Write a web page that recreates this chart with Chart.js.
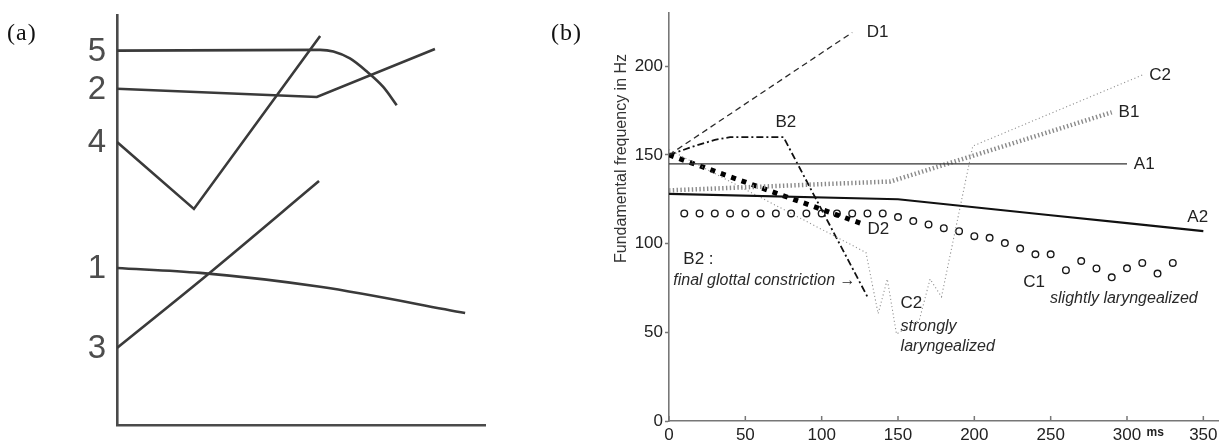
<!DOCTYPE html>
<html><head><meta charset="utf-8">
<script src="https://cdn.jsdelivr.net/npm/chart.js@4.4.1/dist/chart.umd.min.js"></script>
<style>
html,body{margin:0;padding:0;background:#fff;}
body{width:1224px;height:442px;overflow:hidden;position:relative;}
#ca{position:absolute;left:0;top:0;}
#cb{position:absolute;left:540px;top:0;}
.pl{position:absolute;font-family:"Liberation Serif","Times New Roman",serif;font-size:24px;line-height:24px;color:#111;letter-spacing:1px;}
</style></head>
<body>
<canvas id="ca" width="540" height="442"></canvas>
<canvas id="cb" width="684" height="442"></canvas>
<div class="pl" style="left:7px;top:20px">(a)</div>
<div class="pl" style="left:551px;top:20px">(b)</div>
<script>
// ---------- Panel (a): schematic contours (arbitrary units 0-100) ----------
const aNames = ['5', '2', '4', '1', '3'];
const a5x = [0, 55.2, 58.8, 63.3, 67.9, 72.4, 76.0];
const a5y = [91.3, 91.5, 91.1, 89.4, 86.2, 82.4, 78.0];
const a2x = [0, 54.3, 86.4];
const a2y = [82.0, 80.0, 91.7];
const a4x = [0, 20.9, 55.2];
const a4y = [69.0, 52.7, 94.9];
const a1x = [0, 22.6, 55.2, 94.6];
const a1y = [38.3, 37.1, 33.7, 27.3];
const a3x = [0, 24.5, 54.9];
const a3y = [18.8, 36.6, 59.5];

// ---------- Panel (b): F0 contours ----------
const xTicksB = [0, 50, 100, 150, 200, 250, 300, 350];
const yTicksB = [0, 50, 100, 150, 200];
const A1ms = [0, 300];            const A1hz = [145, 145];
const A2ms = [0, 150, 200, 250, 300, 350];
const A2hz = [128, 125, 120.5, 116, 111.5, 107];
const B1ms = [0, 100, 145, 160, 290];
const B1hz = [130, 133.5, 135, 139, 174];
const B2ms = [0, 15, 30, 40, 75, 130];
const B2hz = [150, 154.5, 158.5, 160, 160, 70];
const C1ms = [10,20,30,40,50,60,70,80,90,100,110,120,130,140,150,160,170,180,190,200,210,220,230,240,250,260,270,280,290,300,310,320,330];
const C1hz = [117,117,117,117,117,117,117,117,117,117,117,117,117,117,115,112.7,110.8,108.7,107,104.2,103.3,100.3,97.2,94,94,85,90.2,86,81,86.1,89.1,83.1,89.1];
const C2ms = [0, 129, 137, 143, 149, 164, 171, 178.5, 199, 310];
const C2hz = [153, 95, 60.5, 80, 49, 57, 80, 70, 155, 195];
const D1ms = [0, 120];            const D1hz = [150, 219];
const D2ms = [0, 127];            const D2hz = [150, 111];

const bLabels = [
  {t:'D1', x:129.5, y:219}, {t:'C2', x:314.5, y:194.7}, {t:'B1', x:294.5, y:174},
  {t:'B2', x:69.7, y:168.4}, {t:'A1', x:304.5, y:144.6}, {t:'A2', x:339.5, y:115},
  {t:'D2', x:130, y:107.8}, {t:'B2 :', x:9.4, y:90.9}, {t:'C1', x:232, y:78.3},
  {t:'C2', x:151.7, y:66.1}
];
const bNotes = [
  {t:'final glottal constriction \u2192', x:2.8, y:79.2},
  {t:'slightly laryngealized', x:249.6, y:68.9},
  {t:'strongly', x:151.7, y:53.3},
  {t:'laryngealized', x:151.7, y:41.7}
];

const SANS = '"Liberation Sans", Arial, Helvetica, sans-serif';
const pts = (xs, ys) => xs.map((v, i) => ({x: v, y: ys[i]}));

// ---------- Chart (a) ----------
const aCol = '#3a3a3a';
function aSet(xs, ys, smooth) {
  return {data: pts(xs, ys), showLine: true, borderColor: aCol, borderWidth: 2.6,
    pointRadius: 0, tension: 0, cubicInterpolationMode: smooth ? 'monotone' : 'default', fill: false};
}
const aSeries = [[a5x, a5y, true], [a2x, a2y, false], [a4x, a4y, false], [a1x, a1y, true], [a3x, a3y, true]];
const aLabelPlugin = {
  id: 'aLabels',
  afterDatasetsDraw(chart) {
    const {ctx, scales: {x, y}, chartArea} = chart;
    ctx.save();
    ctx.fillStyle = '#4d4d4d';
    ctx.font = '33px ' + SANS;
    ctx.textAlign = 'center';
    ctx.textBaseline = 'middle';
    aSeries.forEach((s, i) => {
      ctx.fillText(aNames[i], chartArea.left - 20, y.getPixelForValue(s[1][0]) + 1);
    });
    ctx.restore();
  }
};
new Chart(document.getElementById('ca'), {
  type: 'scatter',
  data: {datasets: aSeries.map(s => aSet(s[0], s[1], s[2]))},
  options: {
    responsive: false, animation: false, devicePixelRatio: 1,
    layout: {padding: {left: 117, top: 15, right: 55, bottom: 17}},
    plugins: {legend: {display: false}, tooltip: {enabled: false}},
    scales: {
      x: {type: 'linear', min: 0, max: 100, ticks: {display: false},
          grid: {display: false}, border: {display: true, color: '#4a4a4a', width: 2.6},
          afterFit(s) { s.height = 0; s.paddingLeft = 0; s.paddingRight = 0; }},
      y: {type: 'linear', min: 0, max: 100, ticks: {display: false},
          grid: {display: false}, border: {display: true, color: '#4a4a4a', width: 2.6},
          afterFit(s) { s.width = 0; s.paddingTop = 0; s.paddingBottom = 0; }}
    }
  },
  plugins: [aLabelPlugin]
});

// ---------- Chart (b) ----------
const bPlugin = {
  id: 'bText',
  afterDatasetsDraw(chart) {
    const {ctx, scales: {x, y}, chartArea} = chart;
    ctx.save();
    ctx.fillStyle = '#222';
    ctx.textAlign = 'left';
    ctx.textBaseline = 'middle';
    ctx.font = '17px ' + SANS;
    bLabels.forEach(l => ctx.fillText(l.t, x.getPixelForValue(l.x), y.getPixelForValue(l.y)));
    ctx.font = 'italic 16px ' + SANS;
    ctx.fillStyle = '#2a2a2a';
    bNotes.forEach(l => ctx.fillText(l.t, x.getPixelForValue(l.x), y.getPixelForValue(l.y)));
    // inward x ticks
    ctx.strokeStyle = '#777';
    ctx.lineWidth = 1.5;
    xTicksB.forEach(v => {
      const px = x.getPixelForValue(v);
      ctx.beginPath(); ctx.moveTo(px, chartArea.bottom); ctx.lineTo(px, chartArea.bottom - 5); ctx.stroke();
    });
    // unit label
    ctx.fillStyle = '#222';
    ctx.font = 'bold 12px ' + SANS;
    ctx.textAlign = 'center';
    ctx.fillText('ms', x.getPixelForValue(318.5), chartArea.bottom + 12);
    // y title
    ctx.translate(chartArea.left - 47.5, y.getPixelForValue(148));
    ctx.rotate(-Math.PI / 2);
    ctx.font = '16px ' + SANS;
    ctx.fillStyle = '#333';
    ctx.textAlign = 'center';
    ctx.fillText('Fundamental frequency in Hz', 0, 0);
    ctx.restore();
  }
};
function line(xs, ys, color, width, dash) {
  return {data: pts(xs, ys), showLine: true, borderColor: color, borderWidth: width,
    borderDash: dash || [], pointRadius: 0, tension: 0, fill: false, borderCapStyle: 'butt'};
}
new Chart(document.getElementById('cb'), {
  type: 'scatter',
  data: {datasets: [
    line(A1ms, A1hz, '#333', 1.2),
    line(A2ms, A2hz, '#111', 2.2),
    line(B1ms, B1hz, '#8a8a8a', 4.5, [1.4, 2.4]),
    line(C2ms, C2hz, '#8f8f8f', 1.1, [1.1, 2.6]),
    line(D1ms, D1hz, '#2a2a2a', 1.3, [6, 4]),
    line(B2ms, B2hz, '#111', 1.8, [7, 3, 2, 3]),
    line(D2ms, D2hz, '#000', 5, [5, 6]),
    {data: pts(C1ms, C1hz), showLine: false, pointRadius: 3.3, pointBorderWidth: 1.4,
     pointBorderColor: '#1a1a1a', pointBackgroundColor: 'rgba(255,255,255,0)', pointStyle: 'circle'}
  ]},
  options: {
    responsive: false, animation: false, devicePixelRatio: 1,
    layout: {padding: {left: 0, top: 13, right: 1, bottom: 0}},
    plugins: {legend: {display: false}, tooltip: {enabled: false}},
    scales: {
      x: {type: 'linear', min: 0, max: 360,
          ticks: {stepSize: 50, includeBounds: false, color: '#222', font: {size: 17, family: SANS}, padding: 1,
                  maxRotation: 0, autoSkip: false, callback: v => xTicksB.includes(v) ? String(v) : ''},
          grid: {display: true, drawOnChartArea: false, drawTicks: true, tickLength: 3, tickColor: 'rgba(0,0,0,0)'},
          border: {display: true, color: '#777', width: 1.6},
          afterFit(s) { s.height = 21; s.paddingLeft = 0; s.paddingRight = 0; }},
      y: {type: 'linear', min: 0, max: 230,
          ticks: {stepSize: 50, includeBounds: false, color: '#222', font: {size: 17, family: SANS}, padding: 2,
                  callback: v => yTicksB.includes(v) ? String(v) : ''},
          grid: {display: true, drawOnChartArea: false, drawTicks: true, tickLength: 4, tickColor: '#777', tickWidth: 1.5},
          border: {display: true, color: '#777', width: 1.6},
          afterFit(s) { s.width = 129; s.paddingTop = 0; s.paddingBottom = 0; }}
    }
  },
  plugins: [bPlugin]
});
</script>
</body></html>
